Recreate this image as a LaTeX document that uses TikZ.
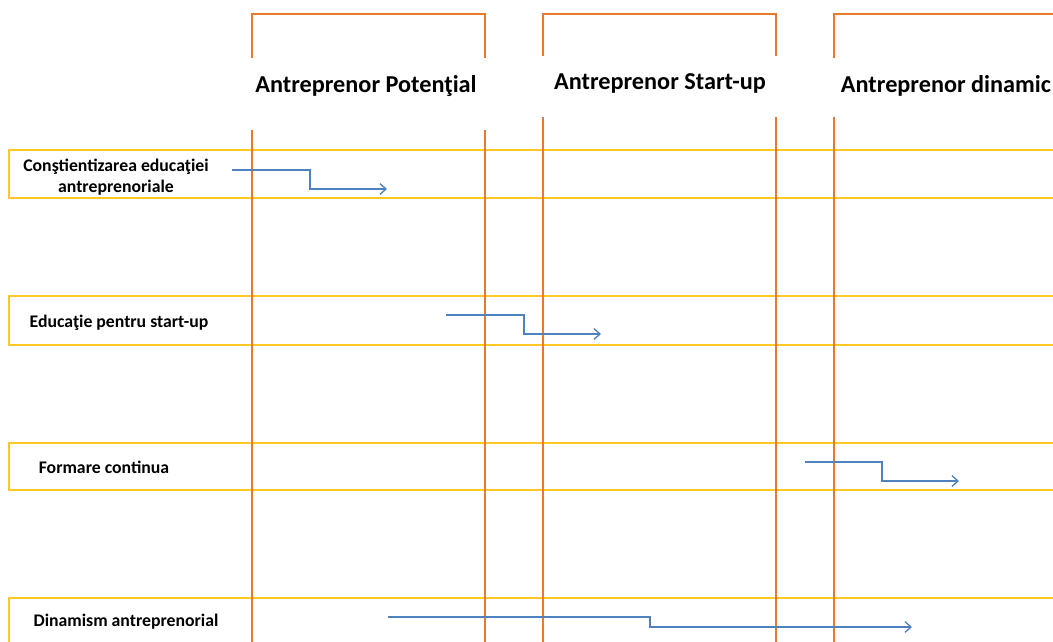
\documentclass[tikz,border=0pt]{standalone}
\usepackage{fontspec}
\setmainfont{Carlito}
\usepackage{xcolor}
\usetikzlibrary{arrows.meta}
\definecolor{stageorange}{HTML}{E8782A}
\definecolor{bandyellow}{HTML}{FFC824}
\definecolor{flowblue}{HTML}{4F81BD}

\begin{document}
\begin{tikzpicture}[x=0.75pt,y=-0.75pt,
  stage/.style={draw=stageorange, line width=1.1pt},
  band/.style={draw=bandyellow, line width=0.8pt},
  flow/.style={draw=flowblue, line width=1pt, -{Straight Barb[length=4.5pt,width=8pt]}},
  head/.style={font=\fontsize{18.2}{22}\selectfont\bfseries},
  lbl/.style={font=\fontsize{13.3}{15.8}\selectfont\bfseries, align=center}]
\useasboundingbox (0,0) rectangle (1053,642);
\clip (0,0) rectangle (1053,642);
\foreach \y/\h in {150/198, 296/345, 443/490, 598/660}
  \draw[band] (9,\y) rectangle (1080,\h);
\foreach \l/\r/\b/\t in {252/485/58/130, 543/776/56/117, 834/1080/58/117} {
  \draw[stage] (\l,\b) |- (\r,14) -- (\r,\b);
  \draw[stage] (\l,\t) -- (\l,660);
  \draw[stage] (\r,\t) -- (\r,660);
}
\node[head] (potential) at (366,86) {Antreprenor Potenţial};
\node[head] (startup) at (660,83) {Antreprenor Start-up};
\node[head] (dinamic) at (946,86) {Antreprenor dinamic};
\node[lbl] (constient) at (116,177) {Conştientizarea educaţiei\\antreprenoriale};
\node[lbl] (educatie) at (119,323) {Educaţie pentru start-up};
\node[lbl] (formare) at (104,467) {Formare continua};
\node[lbl] (dinamism) at (126,622) {Dinamism antreprenorial};
\coordinate (c1) at (232,170); \coordinate (c1e) at (387,189);
\coordinate (c2) at (446,315); \coordinate (c2e) at (601,334);
\coordinate (c3) at (805,462); \coordinate (c3e) at (959,481);
\coordinate (c4) at (388,617); \coordinate (c4e) at (912,627);
\draw[flow] (c1) -- ++(78,0) |- (c1e);
\draw[flow] (c2) -- ++(78,0) |- (c2e);
\draw[flow] (c3) -- ++(77,0) |- (c3e);
\draw[flow] (c4) -- ++(262,0) |- (c4e);
\end{tikzpicture}
\end{document}
